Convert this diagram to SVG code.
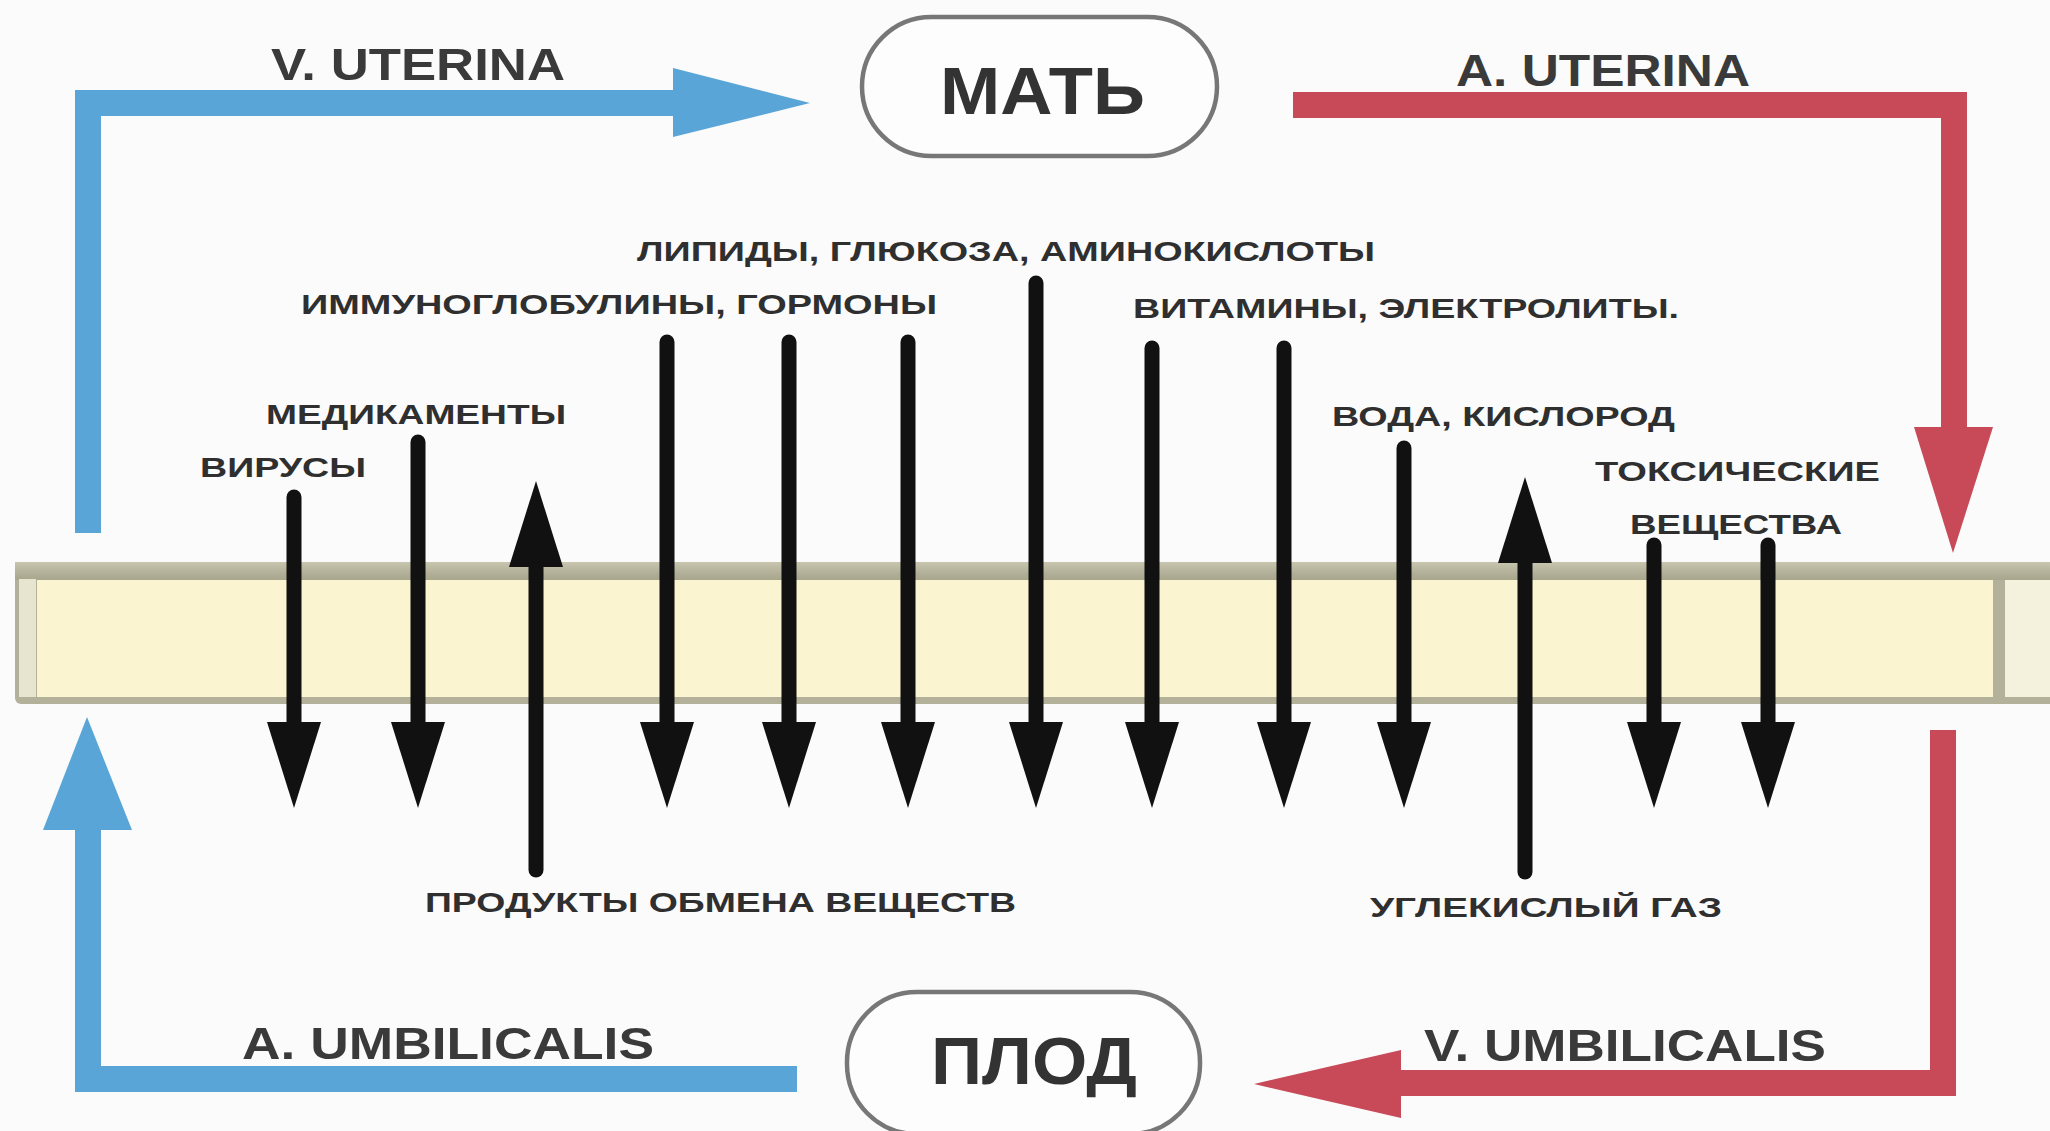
<svg xmlns="http://www.w3.org/2000/svg" width="2050" height="1131" viewBox="0 0 2050 1131">
  <style>
    .lbl { font-family: "Liberation Sans", Arial, sans-serif; font-weight: bold; fill: #2f2f2f; font-size: 27px; }
    .vessel { font-family: "Liberation Sans", Arial, sans-serif; font-weight: bold; fill: #3a3a3a; font-size: 44px; }
    .node-text { font-family: "Liberation Sans", Arial, sans-serif; font-weight: bold; fill: #333; font-size: 66px; }
    .pill { fill: #fdfdfd; stroke: #777; stroke-width: 4.5; }
    .blue { fill: none; stroke: #5aa5d8; stroke-width: 26; stroke-linejoin: miter; }
    .red { fill: none; stroke: #c84a58; stroke-width: 26; stroke-linejoin: miter; }
    .blue-head { fill: #5aa5d8; }
    .red-head { fill: #c84a58; }
    .shaft { stroke: #111; stroke-width: 15; stroke-linecap: round; marker-end: url(#head); }
  </style>
  <defs>
    <marker id="head" markerUnits="userSpaceOnUse" markerWidth="86" markerHeight="54" viewBox="0 0 86 54" refX="0" refY="27" orient="auto">
      <path d="M0,0 L86,27 L0,54 Z" fill="#111"/>
    </marker>
    <linearGradient id="bevelTop" x1="0" y1="0" x2="0" y2="1">
      <stop offset="0" stop-color="#c9c6b0"/>
      <stop offset="0.6" stop-color="#b3b099"/>
      <stop offset="1" stop-color="#a9a68e"/>
    </linearGradient>
  </defs>

  <rect width="2050" height="1131" fill="#fbfbfb"/>

  <!-- placental barrier -->
  <g id="barrier">
    <rect x="15" y="562" width="2040" height="142" rx="6" fill="#b4b19a"/>
    <rect x="15" y="562" width="2040" height="18" fill="url(#bevelTop)"/>
    <rect x="19" y="579" width="17" height="118" fill="#e7e4d0"/>
    <rect x="37" y="580" width="1956" height="117" fill="#faf4d0"/>
    <rect x="2005" y="580" width="45" height="117" fill="#f4f1dc"/>
  </g>

  <!-- mother -->
  <g id="mother">
    <rect class="pill" x="862" y="17" width="355" height="139" rx="69.5"/>
    <text class="node-text" x="940" y="114" textLength="205" lengthAdjust="spacingAndGlyphs">МАТЬ</text>
  </g>

  <!-- fetus -->
  <g id="fetus">
    <rect class="pill" x="847" y="992" width="353" height="142" rx="70"/>
    <text class="node-text" x="931" y="1084" textLength="206" lengthAdjust="spacingAndGlyphs">ПЛОД</text>
  </g>

  <!-- blood vessels -->
  <g id="connectors">
    <g id="v-uterina">
      <path class="blue" d="M88,533 V103 H690"/>
      <polygon class="blue-head" points="673,68 810,103 673,137"/>
      <text class="vessel" x="271" y="80" textLength="294" lengthAdjust="spacingAndGlyphs">V. UTERINA</text>
    </g>
    <g id="a-uterina">
      <path class="red" d="M1293,105 H1954 V440"/>
      <polygon class="red-head" points="1914,427 1993,427 1953,553"/>
      <text class="vessel" x="1456" y="86" textLength="294" lengthAdjust="spacingAndGlyphs">A. UTERINA</text>
    </g>
    <g id="v-umbilicalis">
      <path class="red" d="M1943,730 V1083 H1390"/>
      <polygon class="red-head" points="1401,1050 1254,1084 1401,1118"/>
      <text class="vessel" x="1424" y="1061" textLength="402" lengthAdjust="spacingAndGlyphs">V. UMBILICALIS</text>
    </g>
    <g id="a-umbilicalis">
      <path class="blue" d="M797,1079 H88 V820"/>
      <polygon class="blue-head" points="43,830 87,717 132,830"/>
      <text class="vessel" x="242" y="1059" textLength="412" lengthAdjust="spacingAndGlyphs">A. UMBILICALIS</text>
    </g>

    <!-- transfer across the barrier: mother to fetus -->
    <g id="transfer">
      <line class="shaft" x1="294" y1="497" x2="294" y2="722"/>
      <line class="shaft" x1="418" y1="442" x2="418" y2="722"/>
      <line class="shaft" x1="667" y1="342" x2="667" y2="722"/>
      <line class="shaft" x1="789" y1="342" x2="789" y2="722"/>
      <line class="shaft" x1="908" y1="342" x2="908" y2="722"/>
      <line class="shaft" x1="1036" y1="283" x2="1036" y2="722"/>
      <line class="shaft" x1="1152" y1="348" x2="1152" y2="722"/>
      <line class="shaft" x1="1284" y1="348" x2="1284" y2="722"/>
      <line class="shaft" x1="1404" y1="448" x2="1404" y2="722"/>
      <line class="shaft" x1="1654" y1="545" x2="1654" y2="722"/>
      <line class="shaft" x1="1768" y1="545" x2="1768" y2="722"/>
      <!-- fetus to mother -->
      <line class="shaft" x1="536" y1="870" x2="536" y2="567"/>
      <line class="shaft" x1="1525" y1="872" x2="1525" y2="563"/>
    </g>
  </g>

  <!-- substance labels -->
  <g id="labels">
    <text class="lbl" x="637" y="261" textLength="738" lengthAdjust="spacingAndGlyphs">ЛИПИДЫ, ГЛЮКОЗА, АМИНОКИСЛОТЫ</text>
    <text class="lbl" x="301" y="314" textLength="636" lengthAdjust="spacingAndGlyphs">ИММУНОГЛОБУЛИНЫ, ГОРМОНЫ</text>
    <text class="lbl" x="1133" y="318" textLength="546" lengthAdjust="spacingAndGlyphs">ВИТАМИНЫ, ЭЛЕКТРОЛИТЫ.</text>
    <text class="lbl" x="266" y="424" textLength="300" lengthAdjust="spacingAndGlyphs">МЕДИКАМЕНТЫ</text>
    <text class="lbl" x="200" y="477" textLength="166" lengthAdjust="spacingAndGlyphs">ВИРУСЫ</text>
    <text class="lbl" x="1332" y="426" textLength="343" lengthAdjust="spacingAndGlyphs">ВОДА, КИСЛОРОД</text>
    <text class="lbl" x="1595" y="481" textLength="285" lengthAdjust="spacingAndGlyphs">ТОКСИЧЕСКИЕ</text>
    <text class="lbl" x="1630" y="534" textLength="212" lengthAdjust="spacingAndGlyphs">ВЕЩЕСТВА</text>
    <text class="lbl" x="425" y="912" textLength="591" lengthAdjust="spacingAndGlyphs">ПРОДУКТЫ ОБМЕНА ВЕЩЕСТВ</text>
    <text class="lbl" x="1370" y="917" textLength="352" lengthAdjust="spacingAndGlyphs">УГЛЕКИСЛЫЙ ГАЗ</text>
  </g>
</svg>
